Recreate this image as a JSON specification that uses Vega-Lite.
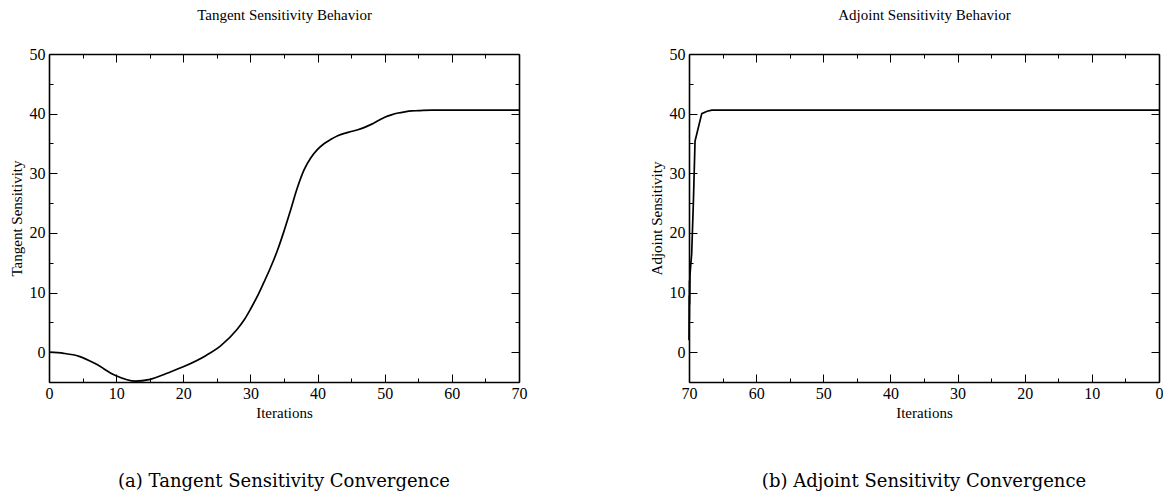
{
  "$schema": "https://vega.github.io/schema/vega-lite/v6.json",
  "background": "white",
  "padding": {"left": 9, "top": 7, "right": 0, "bottom": 0},
  "spacing": 122,
  "config": {
    "font": "Liberation Serif",
    "view": {"stroke": null},
    "axis": {
      "grid": false,
      "domainColor": "black",
      "domainWidth": 1.6,
      "tickColor": "black",
      "tickWidth": 1,
      "labelColor": "black",
      "labelFont": "Liberation Serif",
      "labelFontSize": 16,
      "labelFlush": false,
      "labelOverlap": false,
      "labelBound": false,
      "titleColor": "black",
      "titleFont": "Liberation Serif",
      "titleFontSize": 15,
      "titleFontWeight": "normal"
    },
    "title": {"font": "DejaVu Serif", "fontSize": 18, "fontWeight": "normal", "color": "black"}
  },
  "hconcat": [
    {
      "title": {"text": "(a) Tangent Sensitivity Convergence", "orient": "bottom", "anchor": "middle", "frame": "group", "offset": 53},
      "width": 470,
      "height": 328,
      "data": {
        "values": [
          {"iteration": 0, "sensitivity": 0},
          {"iteration": 2.2, "sensitivity": -0.2},
          {"iteration": 4.5, "sensitivity": -0.7},
          {"iteration": 7, "sensitivity": -2.0},
          {"iteration": 9.9, "sensitivity": -3.9},
          {"iteration": 12.9, "sensitivity": -4.85},
          {"iteration": 14.9, "sensitivity": -4.6},
          {"iteration": 17.9, "sensitivity": -3.4},
          {"iteration": 19.9, "sensitivity": -2.5},
          {"iteration": 23.4, "sensitivity": -0.55},
          {"iteration": 25.6, "sensitivity": 1.1},
          {"iteration": 28, "sensitivity": 3.8},
          {"iteration": 29, "sensitivity": 5.3},
          {"iteration": 30, "sensitivity": 7.2},
          {"iteration": 31, "sensitivity": 9.3},
          {"iteration": 32, "sensitivity": 11.7},
          {"iteration": 33, "sensitivity": 14.2},
          {"iteration": 34, "sensitivity": 17.0},
          {"iteration": 35, "sensitivity": 20.3},
          {"iteration": 36, "sensitivity": 23.9},
          {"iteration": 37, "sensitivity": 27.6},
          {"iteration": 38, "sensitivity": 30.6},
          {"iteration": 39, "sensitivity": 32.6},
          {"iteration": 40, "sensitivity": 34.0},
          {"iteration": 41, "sensitivity": 35.0},
          {"iteration": 42, "sensitivity": 35.7},
          {"iteration": 43, "sensitivity": 36.3},
          {"iteration": 44, "sensitivity": 36.7},
          {"iteration": 45, "sensitivity": 37.0},
          {"iteration": 46, "sensitivity": 37.3},
          {"iteration": 47, "sensitivity": 37.7},
          {"iteration": 48, "sensitivity": 38.2},
          {"iteration": 49, "sensitivity": 38.8},
          {"iteration": 50, "sensitivity": 39.4},
          {"iteration": 51, "sensitivity": 39.8},
          {"iteration": 52, "sensitivity": 40.1},
          {"iteration": 53, "sensitivity": 40.3},
          {"iteration": 54, "sensitivity": 40.45},
          {"iteration": 55, "sensitivity": 40.5},
          {"iteration": 57, "sensitivity": 40.6},
          {"iteration": 60, "sensitivity": 40.6},
          {"iteration": 65, "sensitivity": 40.6},
          {"iteration": 70, "sensitivity": 40.6}
        ]
      },
      "layer": [
        {
          "mark": {"type": "line", "color": "black", "strokeWidth": 1.7, "interpolate": "monotone"},
          "encoding": {
            "x": {
              "field": "iteration", "type": "quantitative",
              "scale": {"domain": [0, 70], "nice": false, "zero": false},
              "axis": {
                "orient": "bottom",
                "values": [0, 5, 10, 15, 20, 25, 30, 35, 40, 45, 50, 55, 60, 65, 70],
                "labelExpr": "datum.value % 10 === 0 ? datum.label : ''",
                "tickSize": {"condition": {"test": "datum.value % 10 === 0", "value": -8}, "value": -4},
                "labelPadding": 11,
                "title": "Iterations",
                "titlePadding": 0
              }
            },
            "y": {
              "field": "sensitivity", "type": "quantitative",
              "scale": {"domain": [-5, 50], "nice": false, "zero": false},
              "axis": {
                "orient": "left",
                "values": [-5, 0, 5, 10, 15, 20, 25, 30, 35, 40, 45, 50],
                "labelExpr": "datum.value % 10 === 0 ? datum.label : ''",
                "tickSize": {"condition": {"test": "datum.value % 10 === 0", "value": -8}, "value": -4},
                "labelPadding": 12,
                "title": "Tangent Sensitivity",
                "titlePadding": 5
              }
            }
          }
        },
        {
          "mark": {"type": "line", "strokeOpacity": 0},
          "encoding": {
            "x": {
              "field": "iteration", "type": "quantitative",
              "axis": {
                "orient": "top",
                "values": [0, 5, 10, 15, 20, 25, 30, 35, 40, 45, 50, 55, 60, 65, 70],
                "labels": false,
                "tickSize": {"condition": {"test": "datum.value % 10 === 0", "value": -8}, "value": -4},
                "title": "Tangent Sensitivity Behavior",
                "titlePadding": 31
              }
            },
            "y": {
              "field": "sensitivity", "type": "quantitative",
              "axis": {
                "orient": "right",
                "values": [-5, 0, 5, 10, 15, 20, 25, 30, 35, 40, 45, 50],
                "labels": false,
                "tickSize": {"condition": {"test": "datum.value % 10 === 0", "value": -8}, "value": -4},
                "title": null
              }
            }
          }
        }
      ],
      "resolve": {"axis": {"x": "independent", "y": "independent"}}
    },
    {
      "title": {"text": "(b) Adjoint Sensitivity Convergence", "orient": "bottom", "anchor": "middle", "frame": "group", "offset": 53},
      "width": 470,
      "height": 328,
      "data": {
        "values": [
          {"iteration": 70, "sensitivity": 2.0},
          {"iteration": 69.97, "sensitivity": 9.5},
          {"iteration": 69.95, "sensitivity": 5.5},
          {"iteration": 69.92, "sensitivity": 12},
          {"iteration": 69.9, "sensitivity": 8},
          {"iteration": 69.85, "sensitivity": 13},
          {"iteration": 69.75, "sensitivity": 14.5},
          {"iteration": 69.6, "sensitivity": 16.5},
          {"iteration": 69.35, "sensitivity": 25},
          {"iteration": 69.1, "sensitivity": 35.4},
          {"iteration": 68.1, "sensitivity": 40.0},
          {"iteration": 67.3, "sensitivity": 40.4},
          {"iteration": 66.6, "sensitivity": 40.6},
          {"iteration": 60, "sensitivity": 40.6},
          {"iteration": 50, "sensitivity": 40.6},
          {"iteration": 40, "sensitivity": 40.6},
          {"iteration": 30, "sensitivity": 40.6},
          {"iteration": 20, "sensitivity": 40.6},
          {"iteration": 10, "sensitivity": 40.6},
          {"iteration": 0, "sensitivity": 40.6}
        ]
      },
      "layer": [
        {
          "mark": {"type": "line", "color": "black", "strokeWidth": 1.7},
          "encoding": {
            "x": {
              "field": "iteration", "type": "quantitative",
              "scale": {"domain": [0, 70], "nice": false, "zero": false, "reverse": true},
              "axis": {
                "orient": "bottom",
                "values": [0, 5, 10, 15, 20, 25, 30, 35, 40, 45, 50, 55, 60, 65, 70],
                "labelExpr": "datum.value % 10 === 0 ? datum.label : ''",
                "tickSize": {"condition": {"test": "datum.value % 10 === 0", "value": -8}, "value": -4},
                "labelPadding": 11,
                "title": "Iterations",
                "titlePadding": 0
              }
            },
            "y": {
              "field": "sensitivity", "type": "quantitative",
              "scale": {"domain": [-5, 50], "nice": false, "zero": false},
              "axis": {
                "orient": "left",
                "values": [-5, 0, 5, 10, 15, 20, 25, 30, 35, 40, 45, 50],
                "labelExpr": "datum.value % 10 === 0 ? datum.label : ''",
                "tickSize": {"condition": {"test": "datum.value % 10 === 0", "value": -8}, "value": -4},
                "labelPadding": 12,
                "title": "Adjoint Sensitivity",
                "titlePadding": 5
              }
            }
          }
        },
        {
          "mark": {"type": "line", "strokeOpacity": 0},
          "encoding": {
            "x": {
              "field": "iteration", "type": "quantitative",
              "axis": {
                "orient": "top",
                "values": [0, 5, 10, 15, 20, 25, 30, 35, 40, 45, 50, 55, 60, 65, 70],
                "labels": false,
                "tickSize": {"condition": {"test": "datum.value % 10 === 0", "value": -8}, "value": -4},
                "title": "Adjoint Sensitivity Behavior",
                "titlePadding": 31
              }
            },
            "y": {
              "field": "sensitivity", "type": "quantitative",
              "axis": {
                "orient": "right",
                "values": [-5, 0, 5, 10, 15, 20, 25, 30, 35, 40, 45, 50],
                "labels": false,
                "tickSize": {"condition": {"test": "datum.value % 10 === 0", "value": -8}, "value": -4},
                "title": null
              }
            }
          }
        }
      ],
      "resolve": {"axis": {"x": "independent", "y": "independent"}}
    }
  ]
}
